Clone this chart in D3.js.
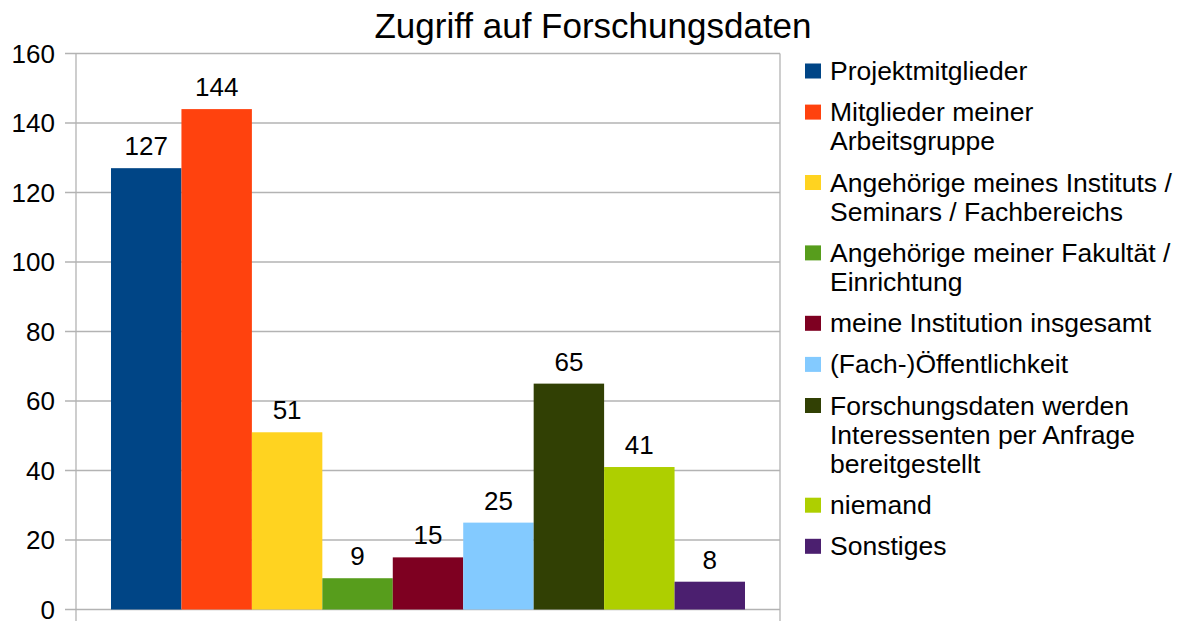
<!DOCTYPE html>
<html><head><meta charset="utf-8">
<script src="https://cdn.jsdelivr.net/npm/d3@7"></script>
<style>body{margin:0;background:#fff}svg{display:block;font-family:"Liberation Sans",Arial,sans-serif}</style>
</head><body><svg id="c" width="1189" height="621"></svg>
<script>
const categories = ["Projektmitglieder","Mitglieder meiner Arbeitsgruppe","Angehörige meines Instituts / Seminars / Fachbereichs","Angehörige meiner Fakultät / Einrichtung","meine Institution insgesamt","(Fach-)Öffentlichkeit","Forschungsdaten werden Interessenten per Anfrage bereitgestellt","niemand","Sonstiges"];
const legendLines = [["Projektmitglieder"],["Mitglieder meiner","Arbeitsgruppe"],["Angehörige meines Instituts /","Seminars / Fachbereichs"],["Angehörige meiner Fakultät /","Einrichtung"],["meine Institution insgesamt"],["(Fach-)Öffentlichkeit"],["Forschungsdaten werden","Interessenten per Anfrage","bereitgestellt"],["niemand"],["Sonstiges"]];
const values = [127,144,51,9,15,25,65,41,8];
const colors = ["#004586","#ff420e","#ffd320","#579d1c","#7e0021","#83caff","#314004","#aecf00","#4b1f6f"];
const yTicks = [0,20,40,60,80,100,120,140,160];
const title = "Zugriff auf Forschungsdaten";

const svg = d3.select("#c");
const L=76, R=780, T=53.5, B=609.5;
const y = d3.scaleLinear().domain([0,160]).range([B,T]);
const x = d3.scaleBand().domain(categories).range([L+35,R-35]).padding(0);

svg.append("text").attr("x",593).attr("y",38).attr("text-anchor","middle").attr("font-size",35).text(title);

svg.append("g").selectAll("line").data(yTicks).join("line")
  .attr("x1",L-11).attr("x2",R).attr("y1",d=>y(d)).attr("y2",d=>y(d))
  .attr("stroke","#b3b3b3").attr("stroke-width",1.3);
svg.append("line").attr("x1",L).attr("x2",L).attr("y1",T).attr("y2",621).attr("stroke","#b3b3b3").attr("stroke-width",1.3);
svg.append("line").attr("x1",R).attr("x2",R).attr("y1",T).attr("y2",621).attr("stroke","#b3b3b3").attr("stroke-width",1.3);

svg.append("g").selectAll("text").data(yTicks).join("text")
  .attr("x",55).attr("y",d=>y(d)+9).attr("text-anchor","end").attr("font-size",26).text(d=>d);

svg.append("g").selectAll("rect").data(values).join("rect")
  .attr("x",(d,i)=>x(categories[i])).attr("width",x.bandwidth())
  .attr("y",d=>y(d)).attr("height",d=>B-y(d)).attr("fill",(d,i)=>colors[i]);

svg.append("g").selectAll("text").data(values).join("text")
  .attr("x",(d,i)=>x(categories[i])+x.bandwidth()/2).attr("y",d=>y(d)-13)
  .attr("text-anchor","middle").attr("font-size",26).text(d=>d);

const lg = svg.append("g");
let ly = 71;
legendLines.forEach((lines,i)=>{
  lg.append("rect").attr("x",805).attr("y",ly-7.5).attr("width",16).attr("height",15).attr("fill",colors[i]);
  lines.forEach((t,j)=>{
    lg.append("text").attr("x",830).attr("y",ly+j*29.3+9).attr("font-size",26.5).text(t);
  });
  ly += lines.length*29.3 + 11.8;
});
</script></body></html>
